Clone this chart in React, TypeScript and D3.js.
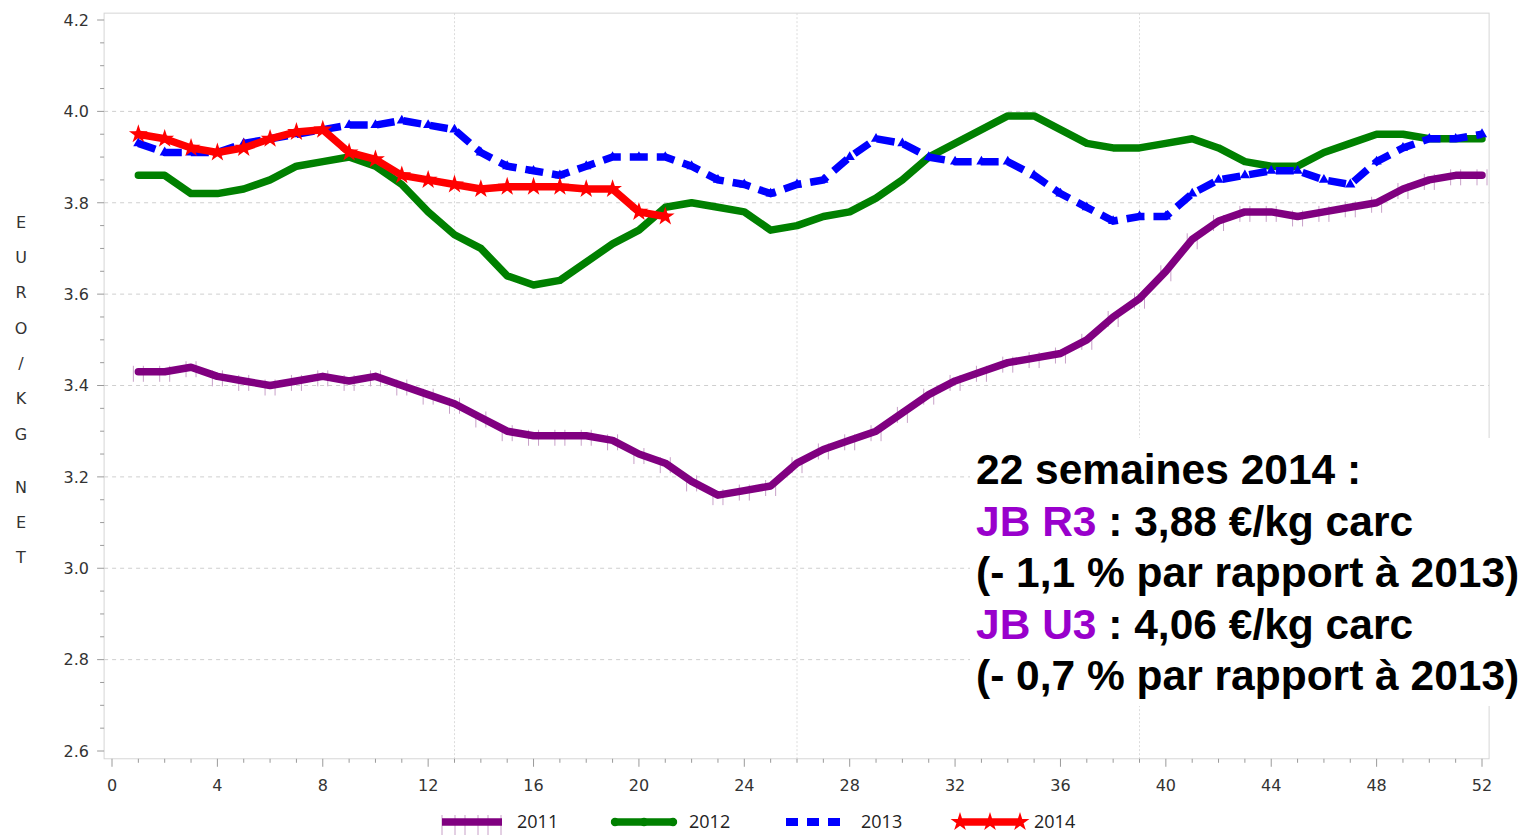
import React from "react";
import * as d3 from "d3";

const weeks: number[] = Array.from({ length: 52 }, (_, i) => i + 1);

const y2011 = [3.43,3.43,3.44,3.42,3.41,3.40,3.41,3.42,3.41,3.42,
  3.40,3.38,3.36,3.33,3.30,3.29,3.29,3.29,3.28,3.25,
  3.23,3.19,3.16,3.17,3.18,3.23,3.26,3.28,3.30,3.34,
  3.38,3.41,3.43,3.45,3.46,3.47,3.50,3.55,3.59,3.65,
  3.72,3.76,3.78,3.78,3.77,3.78,3.79,3.80,3.83,3.85,3.86,3.86];
const y2012 = [3.86,3.86,3.82,3.82,3.83,3.85,3.88,3.89,3.90,3.88,
  3.84,3.78,3.73,3.70,3.64,3.62,3.63,3.67,3.71,3.74,
  3.79,3.80,3.79,3.78,3.74,3.75,3.77,3.78,3.81,3.85,
  3.90,3.93,3.96,3.99,3.99,3.96,3.93,3.92,3.92,3.93,
  3.94,3.92,3.89,3.88,3.88,3.91,3.93,3.95,3.95,3.94,3.94,3.94];
const y2013 = [3.93,3.91,3.91,3.91,3.93,3.94,3.95,3.96,3.97,3.97,
  3.98,3.97,3.96,3.91,3.88,3.87,3.86,3.88,3.90,3.90,
  3.90,3.88,3.85,3.84,3.82,3.84,3.85,3.90,3.94,3.93,
  3.90,3.89,3.89,3.89,3.86,3.82,3.79,3.76,3.77,3.77,
  3.82,3.85,3.86,3.87,3.87,3.85,3.84,3.89,3.92,3.94,3.94,3.95];
const y2014 = [3.95,3.94,3.92,3.91,3.92,3.94,3.955,3.96,3.91,3.895,
  3.86,3.85,3.84,3.83,3.835,3.835,3.835,3.83,3.83,3.78,3.77];

const seriesNames = ["2011", "2012", "2013", "2014"];
const xTicks = [0, 4, 8, 12, 16, 20, 24, 28, 32, 36, 40, 44, 48, 52];
const yTicks = [2.6, 2.8, 3.0, 3.2, 3.4, 3.6, 3.8, 4.0, 4.2];
const yGrid = [2.8, 3.0, 3.2, 3.4, 3.6, 3.8, 4.0];
const xGrid = [13, 26, 39];
const yLabelWords = ["EURO/KG", "NET"];

const noteLines: { pre?: string; rest: string }[] = [
  { rest: "22 semaines 2014 :" },
  { pre: "JB R3", rest: " : 3,88 €/kg carc" },
  { rest: "(- 1,1 % par rapport à 2013)" },
  { pre: "JB U3", rest: " : 4,06 €/kg carc" },
  { rest: "(- 0,7 % par rapport à 2013)" },
];

const PURPLE = "#800080";
const GREEN = "#008000";
const BLUE = "#0000FF";
const RED = "#FF0000";

export default function App() {
  const x = d3.scaleLinear().domain([0, 52]).range([112, 1482]);
  const y = d3.scaleLinear().domain([2.6, 4.2]).range([751, 20]);
  const frame = { x0: x(-0.3), x1: x(52.27), y0: y(4.215), y1: y(2.583) };

  const mk = (vals: number[]) =>
    vals.map((v, i) => [weeks[i], v] as [number, number]);
  const line = d3
    .line<[number, number]>()
    .x((d) => x(d[0]))
    .y((d) => y(d[1]));

  const d11 = mk(y2011), d12 = mk(y2012), d13 = mk(y2013), d14 = mk(y2014);
  const star = d3.symbol().type(d3.symbolStar).size(110)()!;
  const tri = d3.symbol().type(d3.symbolTriangle).size(45)()!;

  const minorX = d3.range(0, 53);
  const minorY = d3.range(0, 33).map((i) => 2.6 + i * 0.05);
  const font = "DejaVu Sans, sans-serif";

  // stacked letters of the y label, with a half-step gap between words
  const labelLetters: { c: string; pos: number }[] = [];
  let pos = 0;
  yLabelWords.forEach((w, wi) => {
    if (wi > 0) pos += 0.5;
    for (const c of w) {
      labelLetters.push({ c, pos });
      pos += 1;
    }
  });

  const legendItems = [
    { name: seriesNames[0], lx0: 442, lx1: 502, tx: 517 },
    { name: seriesNames[1], lx0: 615, lx1: 673, tx: 689 },
    { name: seriesNames[2], lx0: 786, lx1: 840, tx: 861 },
    { name: seriesNames[3], lx0: 960, lx1: 1020, tx: 1034 },
  ];
  const ly = 822;

  return (
    <svg
      width={1526}
      height={835}
      style={{ position: "absolute", left: 0, top: 0, display: "block", background: "#fff" }}
    >
      {/* grid */}
      {yGrid.map((v) => (
        <line key={"yg" + v} x1={frame.x0} x2={frame.x1} y1={y(v)} y2={y(v)}
          stroke="#cfcfcf" strokeWidth={1} strokeDasharray="4,4" />
      ))}
      {xGrid.map((v) => (
        <line key={"xg" + v} x1={x(v)} x2={x(v)} y1={frame.y0} y2={frame.y1}
          stroke="#dcdcdc" strokeWidth={1} strokeDasharray="2,2" />
      ))}
      {/* frame */}
      <rect x={frame.x0} y={frame.y0} width={frame.x1 - frame.x0} height={frame.y1 - frame.y0}
        fill="none" stroke="#d6d6d6" strokeWidth={1} />
      {/* y ticks */}
      {minorY.map((v, i) => (
        <line key={"my" + i} x1={i % 4 === 0 ? frame.x0 - 7 : frame.x0 - 4} x2={frame.x0}
          y1={y(v)} y2={y(v)} stroke="#9a9a9a" strokeWidth={1} />
      ))}
      {yTicks.map((v) => (
        <text key={"yt" + v} x={89} y={y(v)} dy="0.36em" textAnchor="end"
          fontFamily={font} fontSize={16} fill="#333">{v.toFixed(1)}</text>
      ))}
      {/* x ticks */}
      {minorX.map((v) => (
        <line key={"mx" + v} x1={x(v)} x2={x(v)} y1={frame.y1}
          y2={v % 4 === 0 ? frame.y1 + 8 : frame.y1 + 4} stroke="#9a9a9a" strokeWidth={1} />
      ))}
      {xTicks.map((v) => (
        <text key={"xt" + v} x={x(v)} y={791} textAnchor="middle"
          fontFamily={font} fontSize={16} fill="#333">{v}</text>
      ))}
      {/* y label */}
      {labelLetters.map((l, i) => (
        <text key={"yl" + i} x={21} y={222 + l.pos * 35.3} dy="0.36em" textAnchor="middle"
          fontFamily={font} fontSize={16} fill="#333">{l.c}</text>
      ))}

      {/* 2011 */}
      <g>
        {d11.map((d, i) => (
          <g key={"t11" + i} stroke="#c8a0c8" strokeWidth={1}>
            <line x1={x(d[0]) - 5} x2={x(d[0]) - 5} y1={y(d[1]) - 6} y2={y(d[1]) + 10} />
            <line x1={x(d[0]) + 5} x2={x(d[0]) + 5} y1={y(d[1]) - 6} y2={y(d[1]) + 10} />
          </g>
        ))}
        <path d={line(d11)!} fill="none" stroke={PURPLE} strokeWidth={7.5}
          strokeLinejoin="round" strokeLinecap="round" />
      </g>
      {/* 2012 */}
      <path d={line(d12)!} fill="none" stroke={GREEN} strokeWidth={7.5}
        strokeLinejoin="round" strokeLinecap="round" />
      {/* 2013 */}
      <path d={line(d13)!} fill="none" stroke={BLUE} strokeWidth={7.5}
        strokeDasharray="18,9" />
      {d13.map((d, i) => (
        <path key={"tr" + i} d={tri} transform={`translate(${x(d[0])},${y(d[1])})`} fill={BLUE} />
      ))}
      {/* 2014 */}
      <path d={line(d14)!} fill="none" stroke={RED} strokeWidth={7.5}
        strokeLinejoin="round" strokeLinecap="round" />
      {d14.map((d, i) => (
        <path key={"st" + i} d={star} transform={`translate(${x(d[0])},${y(d[1])})`} fill={RED} />
      ))}

      {/* annotation box */}
      <rect x={970} y={438} width={556} height={268} fill="#fff" />
      {noteLines.map((l, i) => (
        <text key={"n" + i} x={976} y={484 + i * 51.5}
          fontFamily="Liberation Sans, Arial, sans-serif" fontWeight="bold" fontSize={42.5} fill="#000">
          {l.pre ? <tspan fill="#9900CC">{l.pre}</tspan> : null}
          <tspan>{l.rest}</tspan>
        </text>
      ))}

      {/* legend */}
      {legendItems.map((it, k) => (
        <g key={"lg" + k}>
          {k === 0 && (
            <g>
              {[442, 455, 465, 478, 488, 501].map((px) => (
                <line key={"lt" + px} x1={px} x2={px} y1={815} y2={835} stroke="#c8a0c8" strokeWidth={1} />
              ))}
              <line x1={it.lx0} x2={it.lx1} y1={ly} y2={ly} stroke={PURPLE} strokeWidth={7.5} />
            </g>
          )}
          {k === 1 && (
            <g>
              <line x1={it.lx0} x2={it.lx1} y1={ly} y2={ly} stroke={GREEN} strokeWidth={7.5} strokeLinecap="round" />
              {[it.lx0, (it.lx0 + it.lx1) / 2, it.lx1].map((px) => (
                <circle key={"gc" + px} cx={px} cy={ly} r={4.2} fill={GREEN} />
              ))}
            </g>
          )}
          {k === 2 && (
            <line x1={it.lx0} x2={it.lx1} y1={ly} y2={ly} stroke={BLUE} strokeWidth={8} strokeDasharray="12,9" />
          )}
          {k === 3 && (
            <g>
              <line x1={it.lx0} x2={it.lx1} y1={ly} y2={ly} stroke={RED} strokeWidth={7.5} />
              {[it.lx0, (it.lx0 + it.lx1) / 2, it.lx1].map((px) => (
                <path key={"ls" + px} d={star} transform={`translate(${px},${ly})`} fill={RED} />
              ))}
            </g>
          )}
          <text x={it.tx} y={ly} dy="0.36em" fontFamily="Open Sans, sans-serif" fontSize={18} fill="#222">
            {it.name}
          </text>
        </g>
      ))}
    </svg>
  );
}
